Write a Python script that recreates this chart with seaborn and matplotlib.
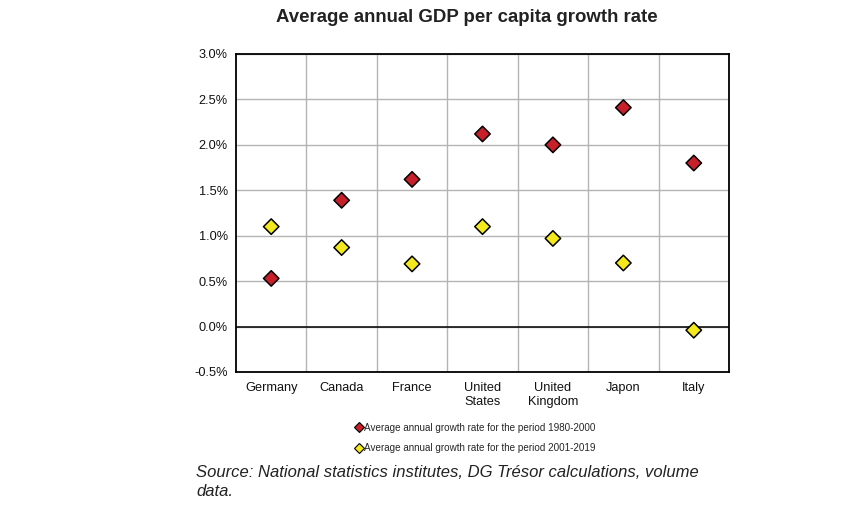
import matplotlib
matplotlib.use("Agg")
import matplotlib.pyplot as plt
import seaborn as sns
import pandas as pd
from matplotlib.ticker import FuncFormatter, MultipleLocator
from matplotlib.lines import Line2D

countries = ["Germany", "Canada", "France", "United\nStates", "United\nKingdom", "Japon", "Italy"]
growth_1980_2000 = [0.53, 1.39, 1.62, 2.12, 2.00, 2.41, 1.80]
growth_2001_2019 = [1.10, 0.87, 0.69, 1.10, 0.97, 0.70, -0.04]
series_names = ["Average annual growth rate for the period 1980-2000",
                "Average annual growth rate for the period 2001-2019"]
series_colors = ["#c8202a", "#f3e91c"]

df = pd.DataFrame({
    "country": countries * 2,
    "pos": list(range(len(countries))) * 2,
    "value": growth_1980_2000 + growth_2001_2019,
    "series": [series_names[0]] * len(countries) + [series_names[1]] * len(countries),
})

sns.set_theme(style="white")
plt.rcParams["font.family"] = ["Liberation Sans", "DejaVu Sans"]

fig = plt.figure(figsize=(8.51, 5.32), dpi=100)
ax = fig.add_axes([236/851, 1-372/532, (729-236)/851, (372-54)/532])

sns.scatterplot(data=df, x="pos", y="value", hue="series", palette=series_colors,
                marker="D", s=62, edgecolor="black", linewidth=1.1, ax=ax,
                legend=False, zorder=5)

ax.set_xlim(-0.5, len(countries) - 0.5)
ax.set_ylim(-0.5, 3.0)
ax.yaxis.set_major_locator(MultipleLocator(0.5))
ax.yaxis.set_major_formatter(FuncFormatter(lambda v, p: f"{v:.1f}%"))
ax.set_xticks(range(len(countries)))
ax.set_xticklabels(countries)
ax.set_xticks([i + 0.5 for i in range(len(countries) - 1)], minor=True)
ax.grid(False)
ax.yaxis.grid(True, color="#b4b4b4", linewidth=1.0, zorder=0)
ax.xaxis.grid(True, which="minor", color="#b4b4b4", linewidth=1.0, zorder=0)
ax.set_axisbelow(True)
ax.axhline(0, color="black", linewidth=1.1, zorder=3)
for sp in ax.spines.values():
    sp.set_color("black")
    sp.set_linewidth(1.3)
ax.tick_params(axis="both", which="both", length=0, labelsize=9.2, colors="#111111")
ax.tick_params(axis="x", pad=7)
ax.tick_params(axis="y", pad=6)
ax.set_xlabel("")
ax.set_ylabel("")

fig.text(467/851, 1-18/532, "Average annual GDP per capita growth rate",
         ha="center", va="center", fontsize=13.4, fontweight="bold", color="#222222")

handles = [Line2D([], [], linestyle="none", marker="D", markersize=5,
                  markerfacecolor=c, markeredgecolor="black", markeredgewidth=0.8)
           for c in series_colors]
fig.legend(handles, series_names, loc="center", bbox_to_anchor=(476/851, 1-438/532),
           frameon=False, fontsize=7.1, handlelength=0.6, handletextpad=0.2,
           labelspacing=1.1, borderpad=0)

fig.text(196/851, 1-482/532, "Source: National statistics institutes, DG Trésor calculations, volume\ndata.",
         ha="left", va="center", fontsize=12.0, fontstyle="italic", color="#222222",
         linespacing=1.38)

fig.savefig("out.png", dpi=100)
